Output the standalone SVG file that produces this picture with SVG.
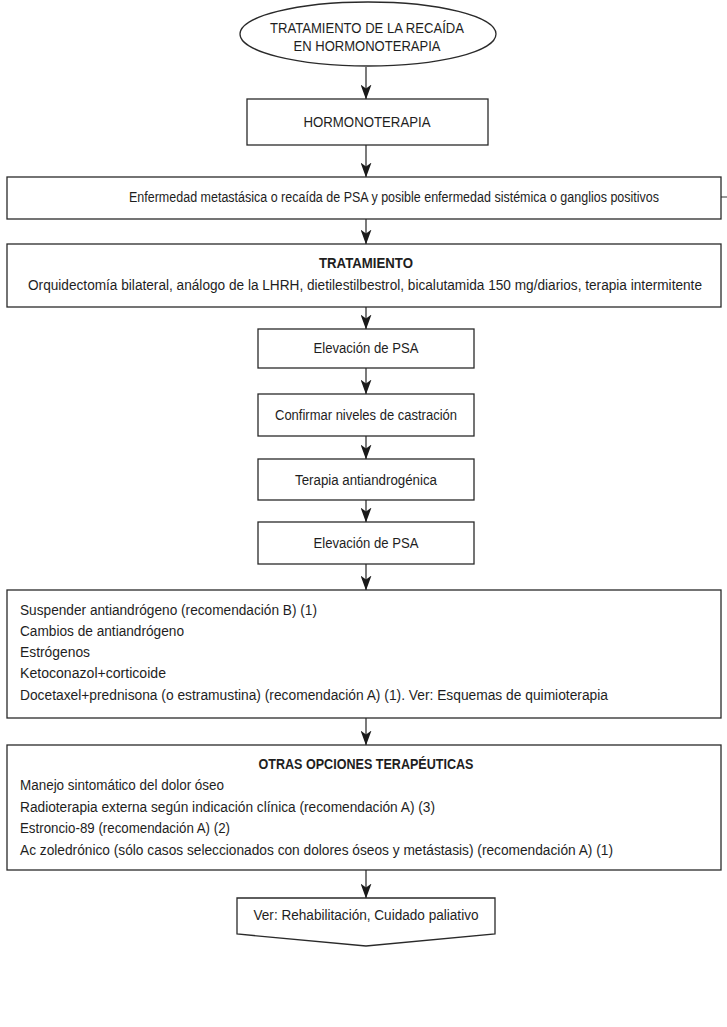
<svg xmlns="http://www.w3.org/2000/svg" width="727" height="1027" viewBox="0 0 727 1027">
<defs>
<marker id="ah" markerWidth="15" markerHeight="11" refX="14.5" refY="5.5" orient="auto" markerUnits="userSpaceOnUse" viewBox="0 0 15 11">
<path d="M0,0 L15,5.5 L0,11 L4,5.5 Z" fill="#1a1a1a"/>
</marker>
<style>
.b{fill:#fff;stroke:#2a2a2a;stroke-width:1.3}
.t{font-family:"Liberation Sans",Arial,Helvetica,sans-serif;font-size:13.8px;fill:#1e1e1e}
.c{text-anchor:middle}
.h{font-weight:bold}
.e{stroke:#222;stroke-width:1.2;fill:none;marker-end:url(#ah)}
</style>
</defs>
<rect width="727" height="1027" fill="#fff"/>
<g id="connectors">
<line class="e" x1="366" y1="67" x2="366" y2="99"/>
<line class="e" x1="366" y1="145" x2="366" y2="177"/>
<line class="e" x1="366" y1="219" x2="366" y2="244"/>
<line class="e" x1="366" y1="307" x2="366" y2="329"/>
<line class="e" x1="366" y1="368" x2="366" y2="394"/>
<line class="e" x1="366" y1="436" x2="366" y2="459"/>
<line class="e" x1="366" y1="500" x2="366" y2="522"/>
<line class="e" x1="366" y1="564" x2="366" y2="590"/>
<line class="e" x1="366" y1="718" x2="366" y2="745"/>
<line class="e" x1="366" y1="870" x2="366" y2="898"/>
<line x1="721" y1="197" x2="727" y2="197" stroke="#333" stroke-width="1"/>
</g>
<g id="n1">
<ellipse class="b" cx="368" cy="34" rx="128" ry="32"/>
<text class="t c" x="367" y="33" textLength="194" lengthAdjust="spacingAndGlyphs">TRATAMIENTO DE LA RECAÍDA</text>
<text class="t c" x="367" y="50.5" textLength="147" lengthAdjust="spacingAndGlyphs">EN HORMONOTERAPIA</text>
</g>
<g id="n2">
<rect class="b" x="247" y="99" width="241" height="46"/>
<text class="t c" x="367" y="127" textLength="127" lengthAdjust="spacingAndGlyphs">HORMONOTERAPIA</text>
</g>
<g id="n3">
<rect class="b" x="7" y="177" width="714" height="42"/>
<text class="t c" x="394" y="202" textLength="530" lengthAdjust="spacingAndGlyphs">Enfermedad metastásica o recaída de PSA y posible enfermedad sistémica o ganglios positivos</text>
</g>
<g id="n4">
<rect class="b" x="7" y="244" width="714" height="63"/>
<text class="t c h" x="366" y="268" textLength="94" lengthAdjust="spacingAndGlyphs">TRATAMIENTO</text>
<text class="t c" x="365" y="290" textLength="674" lengthAdjust="spacingAndGlyphs">Orquidectomía bilateral, análogo de la LHRH, dietilestilbestrol, bicalutamida 150 mg/diarios, terapia intermitente</text>
</g>
<g id="n5">
<rect class="b" x="258" y="329" width="216" height="39"/>
<text class="t c" x="366" y="353" textLength="105" lengthAdjust="spacingAndGlyphs">Elevación de PSA</text>
</g>
<g id="n6">
<rect class="b" x="258" y="394" width="216" height="42"/>
<text class="t c" x="366" y="420" textLength="182" lengthAdjust="spacingAndGlyphs">Confirmar niveles de castración</text>
</g>
<g id="n7">
<rect class="b" x="258" y="459" width="216" height="41"/>
<text class="t c" x="366" y="485" textLength="142" lengthAdjust="spacingAndGlyphs">Terapia antiandrogénica</text>
</g>
<g id="n8">
<rect class="b" x="258" y="522" width="216" height="42"/>
<text class="t c" x="366" y="548" textLength="105" lengthAdjust="spacingAndGlyphs">Elevación de PSA</text>
</g>
<g id="n9">
<rect class="b" x="7" y="590" width="714" height="128"/>
<text class="t" x="20" y="615" textLength="297" lengthAdjust="spacingAndGlyphs">Suspender antiandrógeno (recomendación B) (1)</text>
<text class="t" x="20" y="636" textLength="164" lengthAdjust="spacingAndGlyphs">Cambios de antiandrógeno</text>
<text class="t" x="20" y="657" textLength="70" lengthAdjust="spacingAndGlyphs">Estrógenos</text>
<text class="t" x="20" y="678" textLength="146" lengthAdjust="spacingAndGlyphs">Ketoconazol+corticoide</text>
<text class="t" x="20" y="700" textLength="588" lengthAdjust="spacingAndGlyphs">Docetaxel+prednisona (o estramustina) (recomendación A) (1). Ver: Esquemas de quimioterapia</text>
</g>
<g id="n10">
<rect class="b" x="7" y="745" width="714" height="125"/>
<text class="t c h" x="366" y="769" textLength="215" lengthAdjust="spacingAndGlyphs">OTRAS OPCIONES TERAPÉUTICAS</text>
<text class="t" x="20" y="790" textLength="204" lengthAdjust="spacingAndGlyphs">Manejo sintomático del dolor óseo</text>
<text class="t" x="20" y="812" textLength="415" lengthAdjust="spacingAndGlyphs">Radioterapia externa según indicación clínica (recomendación A) (3)</text>
<text class="t" x="20" y="833" textLength="210" lengthAdjust="spacingAndGlyphs">Estroncio-89 (recomendación A) (2)</text>
<text class="t" x="20" y="855" textLength="593" lengthAdjust="spacingAndGlyphs">Ac zoledrónico (sólo casos seleccionados con dolores óseos y metástasis) (recomendación A) (1)</text>
</g>
<g id="n11">
<path class="b" d="M237,898 H495 V934 L366,946 L237,934 Z"/>
<text class="t c" x="366" y="920" textLength="225" lengthAdjust="spacingAndGlyphs">Ver: Rehabilitación, Cuidado paliativo</text>
</g>
</svg>
